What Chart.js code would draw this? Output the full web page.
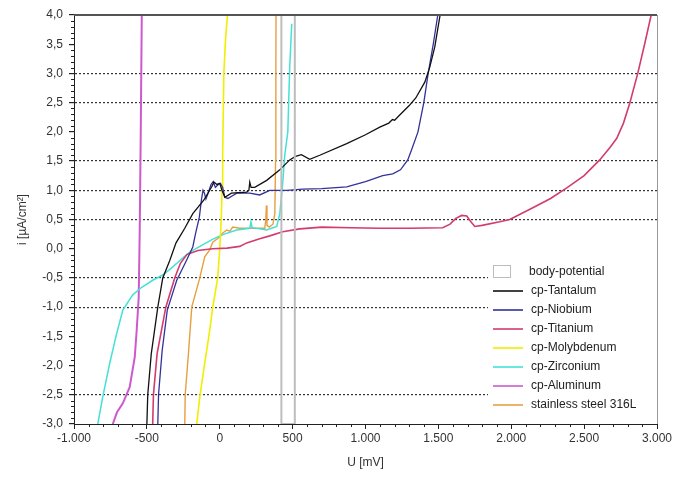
<!DOCTYPE html>
<html>
<head>
<meta charset="utf-8">
<script src="https://cdn.jsdelivr.net/npm/chart.js@4.4.0/dist/chart.umd.min.js"></script>
<style>
  html, body { margin: 0; padding: 0; background: #fff; }
  #wrap { width: 678px; height: 480px; }
</style>
</head>
<body>
<div id="wrap"><canvas id="chart" width="678" height="480"></canvas></div>
<script>
// U [mV] / i [µA/cm²] pairs
const seriesNames = ['body-potential', 'cp-Tantalum', 'cp-Niobium', 'cp-Titanium',
  'cp-Molybdenum', 'cp-Zirconium', 'cp-Aluminum', 'stainless steel 316L'];

const bodyPotential = [[423, -3.0], [423, 4.0], [515, 4.0], [515, -3.0], [423, -3.0]];

const tantalum = [[-500, -3.0], [-494, -2.5], [-470, -1.8], [-425, -1.0], [-391, -0.5], [-343, -0.2],
  [-300, 0.1], [-240, 0.35], [-185, 0.6], [-110, 0.83], [-55, 1.06], [-40, 1.14], [-20, 1.1],
  [0, 1.12], [15, 1.0], [35, 0.88], [80, 0.95], [185, 0.97], [200, 1.0], [206, 1.14], [215, 1.05],
  [240, 1.05], [322, 1.17], [412, 1.35], [480, 1.52], [520, 1.58], [560, 1.61], [617, 1.53],
  [686, 1.6], [871, 1.8], [1000, 1.95], [1098, 2.08], [1160, 2.15], [1185, 2.21], [1200, 2.2],
  [1228, 2.27], [1300, 2.45], [1345, 2.58], [1407, 2.85], [1440, 3.1], [1475, 3.45], [1495, 3.75],
  [1512, 4.0]];

const niobium = [[-425, -3.0], [-420, -2.5], [-395, -1.74], [-360, -1.05], [-295, -0.54], [-226, -0.19],
  [-185, 0.03], [-165, 0.27], [-140, 0.54], [-125, 0.85], [-115, 1.0], [-105, 0.95], [-95, 0.85],
  [-80, 0.95], [-60, 1.1], [-45, 1.15], [-30, 1.05], [-10, 1.1], [5, 1.12], [20, 1.05], [35, 0.88],
  [55, 0.86], [117, 0.95], [206, 0.95], [274, 0.92], [343, 1.0], [460, 1.0], [570, 1.02], [700, 1.03],
  [871, 1.06], [1000, 1.15], [1118, 1.25], [1187, 1.28], [1240, 1.35], [1290, 1.52], [1320, 1.72],
  [1360, 2.0], [1400, 2.5], [1430, 3.0], [1465, 3.5], [1496, 4.0]];

const titanium = [[-460, -3.0], [-455, -2.5], [-430, -1.8], [-370, -1.0], [-309, -0.5], [-270, -0.25],
  [-226, -0.1], [-150, -0.03], [-50, 0.0], [50, 0.01], [137, 0.04], [185, 0.1], [274, 0.17],
  [343, 0.22], [432, 0.29], [549, 0.34], [700, 0.37], [900, 0.36], [1100, 0.35], [1300, 0.35],
  [1530, 0.36], [1580, 0.42], [1620, 0.52], [1660, 0.57], [1695, 0.56], [1720, 0.47], [1750, 0.38],
  [1800, 0.4], [1921, 0.46], [1990, 0.5], [2148, 0.7], [2270, 0.86], [2381, 1.04], [2500, 1.25],
  [2607, 1.52], [2680, 1.74], [2724, 1.89], [2770, 2.15], [2813, 2.49], [2868, 3.0], [2915, 3.5],
  [2960, 4.0]];

const molybdenum = [[-158, -3.0], [-137, -2.54], [-103, -1.96], [-69, -1.4], [-48, -1.0], [-14, -0.5],
  [0, 0.0], [10, 0.5], [16, 1.0], [20, 1.6], [28, 3.0], [40, 3.6], [53, 4.0]];

const zirconium = [[-837, -3.0], [-803, -2.54], [-755, -1.96], [-707, -1.45], [-665, -1.05], [-597, -0.79],
  [-535, -0.66], [-460, -0.54], [-391, -0.45], [-322, -0.31], [-254, -0.16], [-206, -0.06],
  [-130, 0.05], [-50, 0.16], [30, 0.25], [117, 0.32], [206, 0.35], [214, 0.46], [222, 0.36],
  [322, 0.32], [391, 0.38], [412, 0.6], [432, 1.12], [446, 1.6], [467, 2.0], [480, 3.1], [494, 3.85]];

const aluminum = [[-734, -3.0], [-705, -2.8], [-666, -2.65], [-618, -2.37], [-583, -1.85], [-570, -1.4],
  [-556, -0.83], [-549, 0.32], [-542, 2.0], [-535, 4.0]];

const steel = [[-240, -3.0], [-237, -2.5], [-215, -1.8], [-192, -1.0], [-137, -0.5], [-103, -0.14],
  [-69, -0.02], [-48, 0.11], [0, 0.2], [21, 0.27], [48, 0.32], [70, 0.3], [89, 0.37], [137, 0.35],
  [254, 0.35], [309, 0.35], [316, 0.5], [320, 0.74], [324, 0.4], [340, 0.37], [365, 0.42],
  [378, 0.6], [383, 1.5], [385, 3.0], [386, 4.0]];

// only some horizontal gridlines are drawn in the original
const gridValues = [3.0, 2.5, 1.5, 1.0, 0.5, -0.5, -1.0, -2.5];

const allSeries = [bodyPotential, tantalum, niobium, titanium, molybdenum, zirconium, aluminum, steel];
const colors = ['#bdbdbd', '#111111', '#32329a', '#d23c6e', '#f2ee00', '#45e0d8', '#cc5acc', '#e6a040'];
const widths = [2, 1.3, 1.3, 1.6, 1.6, 1.5, 2, 1.4];

function fmtX(v) {
  const sign = v < 0 ? '-' : '';
  const a = Math.abs(v);
  if (a >= 1000) return sign + Math.floor(a / 1000) + '.' + String(a % 1000).padStart(3, '0');
  return sign + a;
}

function fmtY(v) {
  const s = (Math.abs(v) < 1e-9 ? 0 : v).toFixed(1);
  return s.replace('.', ',');
}

const minorTicks = {
  id: 'minorTicks',
  afterDraw(chart) {
    const { ctx, chartArea, scales } = chart;
    ctx.save();
    ctx.strokeStyle = '#222';
    ctx.lineWidth = 1;
    ctx.beginPath();
    for (let k = -30; k <= 40; k++) {
      if (k % 5 === 0) continue;
      const py = Math.round(scales.y.getPixelForValue(k / 10)) + 0.5;
      ctx.moveTo(chartArea.left - 3, py);
      ctx.lineTo(chartArea.left, py);
    }
    for (let k = -10; k <= 30; k++) {
      if (k % 5 === 0) continue;
      const px = Math.round(scales.x.getPixelForValue(k * 100)) + 0.5;
      ctx.moveTo(px, chartArea.bottom);
      ctx.lineTo(px, chartArea.bottom + 3);
    }
    ctx.stroke();
    // frame top and right
    ctx.strokeStyle = '#555';
    ctx.lineWidth = 2;
    ctx.beginPath();
    ctx.moveTo(chartArea.left, chartArea.top);
    ctx.lineTo(chartArea.right, chartArea.top);
    ctx.stroke();
    ctx.strokeStyle = '#999';
    ctx.lineWidth = 1;
    ctx.beginPath();
    ctx.moveTo(chartArea.right + 0.5, chartArea.top);
    ctx.lineTo(chartArea.right + 0.5, chartArea.bottom);
    ctx.stroke();
    ctx.restore();
  }
};

const legendBox = {
  id: 'legendBox',
  afterDatasetsDraw(chart) {
    const { ctx, chartArea } = chart;
    const x0 = chartArea.right - 169;
    const y0 = chartArea.bottom - 166;
    ctx.save();
    ctx.fillStyle = '#fff';
    ctx.fillRect(x0, y0, chartArea.right - x0, chartArea.bottom - y0 - 1);
    ctx.font = '12px "Liberation Sans", Arial, sans-serif';
    ctx.textBaseline = 'middle';
    chart.data.datasets.forEach((ds, i) => {
      const y = y0 + 14 + i * 19;
      if (i === 0) {
        ctx.strokeStyle = ds.borderColor;
        ctx.lineWidth = 1;
        ctx.strokeRect(x0 + 5.5, y - 6.5, 17, 12);
      } else {
        ctx.strokeStyle = ds.borderColor;
        ctx.lineWidth = 1.6;
        ctx.beginPath();
        ctx.moveTo(x0 + 5, y);
        ctx.lineTo(x0 + 35, y);
        ctx.stroke();
      }
      ctx.fillStyle = '#222';
      ctx.fillText(ds.label, x0 + (i === 0 ? 41 : 43), y);
    });
    ctx.restore();
  }
};

const datasets = allSeries.map((pts, i) => ({
  label: seriesNames[i],
  data: pts.map(p => ({ x: p[0], y: p[1] })),
  borderColor: colors[i],
  backgroundColor: colors[i],
  borderWidth: widths[i],
  pointRadius: 0,
  tension: 0,
  fill: false
}));

Chart.defaults.font.family = '"Liberation Sans", Arial, sans-serif';
Chart.defaults.font.size = 12;
Chart.defaults.color = '#333';

new Chart(document.getElementById('chart'), {
  type: 'line',
  data: { datasets },
  options: {
    responsive: false,
    animation: false,
    devicePixelRatio: 1,
    layout: { padding: { top: 15, right: 21, left: 0, bottom: 0 } },
    plugins: { legend: { display: false }, tooltip: { enabled: false } },
    scales: {
      x: {
        type: 'linear',
        min: -1000,
        max: 3000,
        afterFit: (s) => { s.height = 56; },
        ticks: { stepSize: 500, padding: 2, color: '#333', callback: (v) => fmtX(v), maxRotation: 0 },
        grid: { drawOnChartArea: false, tickLength: 5, tickColor: '#222' },
        border: { color: '#222', width: 1 },
        title: { display: true, text: 'U [mV]', color: '#333', padding: { bottom: 10, top: 0 } }
      },
      y: {
        type: 'linear',
        min: -3,
        max: 4,
        afterFit: (s) => { s.width = 74; },
        ticks: { stepSize: 0.5, padding: 6, color: '#333', callback: (v) => fmtY(v) },
        grid: {
          tickLength: 5,
          tickColor: '#222',
          tickBorderDash: [],
          lineWidth: 1.2,
          color: (c) => (c.tick && gridValues.some(g => Math.abs(g - c.tick.value) < 1e-6)) ? '#333' : 'rgba(0,0,0,0)'
        },
        border: { color: '#222', width: 1, dash: [2, 2] },
        title: { display: true, text: 'i [µA/cm²]', color: '#333', padding: { top: 15, bottom: 0 } }
      }
    }
  },
  plugins: [legendBox, minorTicks]
});
</script>
</body>
</html>
